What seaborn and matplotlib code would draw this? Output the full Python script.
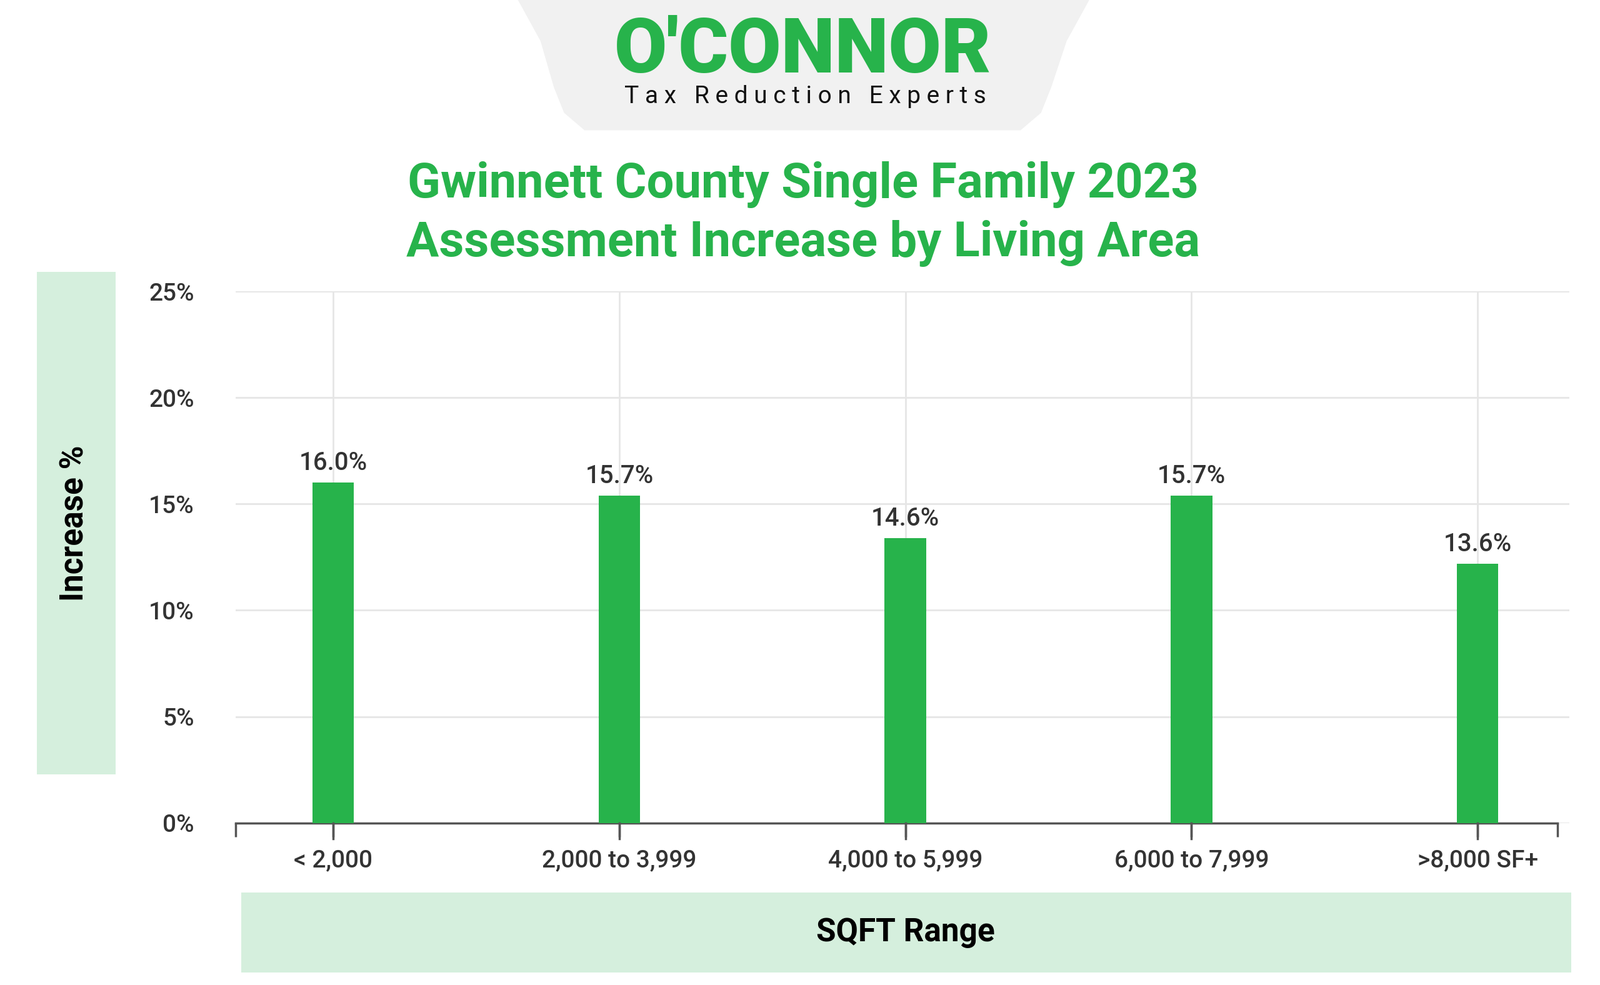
import matplotlib
matplotlib.use("Agg")
import matplotlib.pyplot as plt
import matplotlib.transforms as mtransforms
import seaborn as sns
import pandas as pd
from matplotlib.patches import Rectangle, Polygon

# data (bar heights differ slightly from printed labels)
categories = ["< 2,000", "2,000 to 3,999", "4,000 to 5,999", "6,000 to 7,999", ">8,000 SF+"]
bar_values = [16.0, 15.4, 13.4, 15.4, 12.2]
value_labels = ["16.0%", "15.7%", "14.6%", "15.7%", "13.6%"]
yticks = [0, 5, 10, 15, 20, 25]

GREEN = "#27B34B"
LIGHT = "#D5EFDD"
TEXT = "#333333"
plt.rcParams["font.family"] = "Roboto"

df = pd.DataFrame({"range": categories, "value": bar_values})

fig = plt.figure(figsize=(25.6, 15.76), dpi=100)
W, H = 1560.0, 960.0  # reference layout units

def fx(x): return x / W
def fy(y): return 1 - y / H

# logo background
logo = Polygon([(fx(505), fy(0)), (fx(1062), fy(0)), (fx(1040), fy(40)), (fx(1025), fy(85)),
                (fx(1015), fy(110)), (fx(995), fy(127)), (fx(570), fy(127)), (fx(550), fy(110)),
                (fx(540), fy(85)), (fx(527), fy(40))],
               closed=True, transform=fig.transFigure, facecolor="#F1F1F1", edgecolor="none")
fig.patches.append(logo)
fig.text(fx(783), fy(50), "O'CONNOR", color=GREEN, fontsize=88, fontweight="black",
         ha="center", va="center")
fig.text(fx(785), fy(94), "T a x   R e d u c t i o n   E x p e r t s", color="#111111",
         fontsize=28, ha="center", va="center")

# title
fig.text(fx(783), fy(180), "Gwinnett County Single Family 2023", color=GREEN, fontsize=56,
         fontweight="bold", ha="center", va="center")
fig.text(fx(783), fy(237), "Assessment Increase by Living Area", color=GREEN, fontsize=56,
         fontweight="bold", ha="center", va="center")

# label boxes
fig.patches.append(Rectangle((fx(36), fy(755)), fx(77), 490 / H, transform=fig.transFigure,
                             facecolor=LIGHT, edgecolor="none"))
fig.patches.append(Rectangle((fx(235), fy(948)), fx(1297), 78 / H, transform=fig.transFigure,
                             facecolor=LIGHT, edgecolor="none"))
fig.text(fx(73), fy(510), "Increase %", rotation=90, fontsize=37, fontweight="bold",
         ha="center", va="center", color="black")
fig.text(fx(883), fy(909), "SQFT Range", fontsize=37, fontweight="bold",
         ha="center", va="center", color="black")

ax = fig.add_axes([fx(230), fy(802), fx(1300), (802 - 284) / H])
sns.barplot(data=df, x="range", y="value", color=GREEN, width=0.145, saturation=1, ax=ax, zorder=3)
for p in ax.patches:
    p.set_edgecolor("none")
for i, (v, lab) in enumerate(zip(bar_values, value_labels)):
    ax.text(i, v + 0.35, lab, ha="center", va="bottom", fontsize=29, fontweight="medium", color=TEXT)

ax.set_xlim(-0.34, 4.32)
ax.set_ylim(0, 25)
ax.set_yticks(yticks)
ax.set_yticklabels([f"{t}%" for t in yticks], fontsize=28, fontweight="medium", color=TEXT)
ax.set_xticks(range(len(categories)))
ax.set_xticklabels(categories, fontsize=28, fontweight="medium", color=TEXT)
ax.set_xticks([-0.34, 4.28], minor=True)
ax.tick_params(axis="y", length=0, pad=48)
ax.tick_params(axis="x", which="both", direction="out", length=16, width=2.5,
               color="#555555", pad=14, bottom=True)
# category tick marks below the axis line
trans = mtransforms.blended_transform_factory(ax.transData, ax.transAxes)
for i in range(len(categories)):
    ax.plot([i, i], [0, -0.03], transform=trans, color="#555555", lw=2.5, clip_on=False, zorder=5)
ax.grid(True, which="major", color="#E6E6E6", linewidth=2, zorder=0)
ax.set_axisbelow(True)
for s in ["top", "right", "left"]:
    ax.spines[s].set_visible(False)
ax.spines["bottom"].set_color("#555555")
ax.spines["bottom"].set_linewidth(2.5)
ax.spines["bottom"].set_bounds(-0.34, 4.28)
ax.set_xlabel("")
ax.set_ylabel("")

fig.savefig("out.png", dpi=100, facecolor="white")
